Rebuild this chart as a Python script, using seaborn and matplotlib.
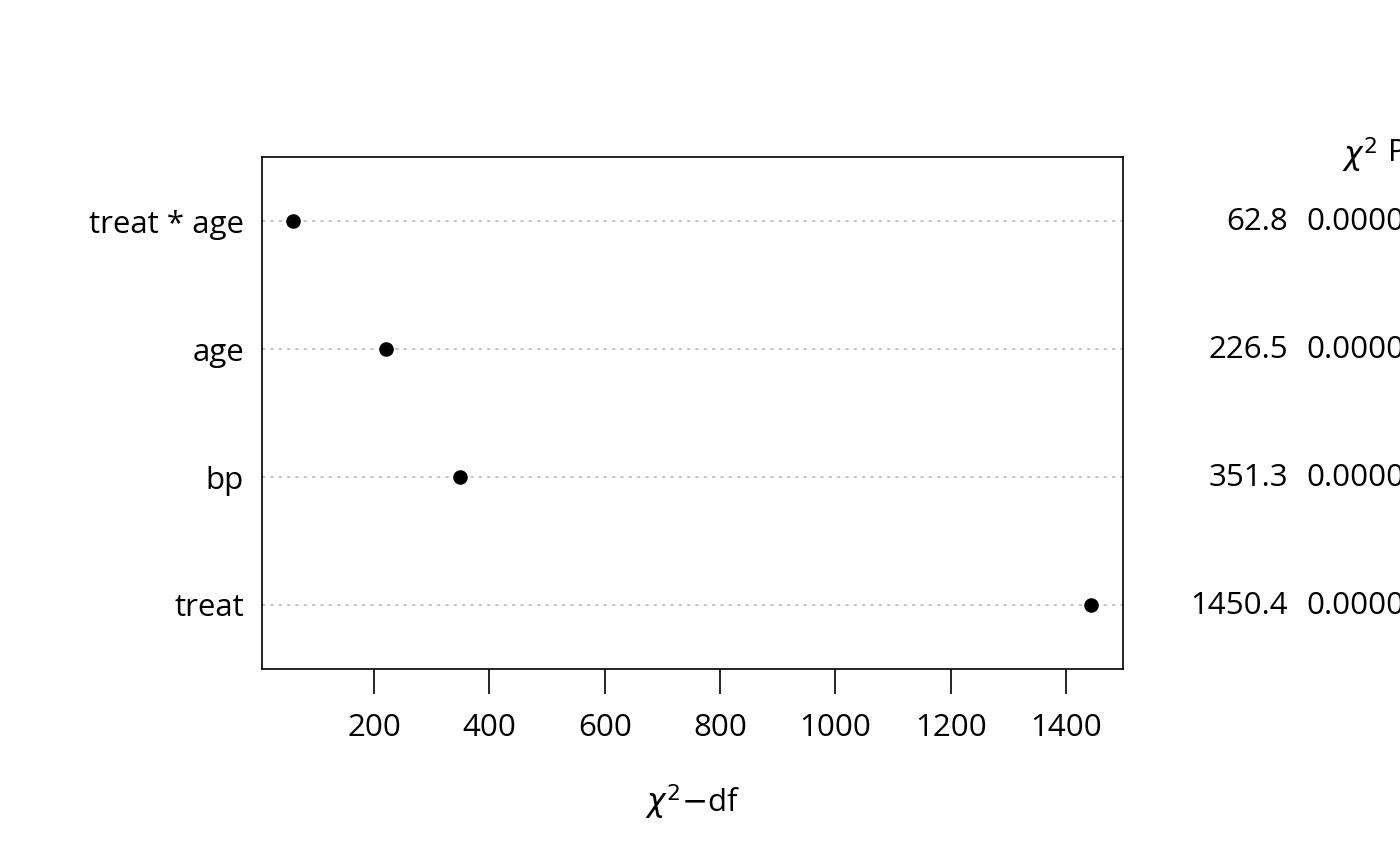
import matplotlib
matplotlib.use("Agg")
import matplotlib.pyplot as plt
import matplotlib.transforms as mtransforms
import seaborn as sns
import pandas as pd
import numpy as np

# Data (rms anova-style dot chart)
factors = ["treat", "bp", "age", "treat * age"]
chi2 = [1450.4, 351.3, 226.5, 62.8]
df_vals = [7, 2, 6, 3]
pvals = ["0.0000", "0.0000", "0.0000", "0.0000"]
xticks = [200, 400, 600, 800, 1000, 1200, 1400]

sns.set_theme(style="white")
plt.rcParams["font.family"] = ["Open Sans", "DejaVu Sans"]
plt.rcParams["mathtext.fontset"] = "dejavusans"
plt.rcParams["text.color"] = "black"
plt.rcParams["xtick.color"] = "black"
plt.rcParams["ytick.color"] = "black"
plt.rcParams["axes.labelcolor"] = "black"

FS = 22.5

data = pd.DataFrame({
    "factor": factors,
    "stat": np.array(chi2) - np.array(df_vals),
    "pos": np.arange(1, len(factors) + 1),
})

fig = plt.figure(figsize=(14, 8.66), dpi=100)
ax = fig.add_axes([262 / 1400, 1 - 669 / 866, (1123 - 262) / 1400, (669 - 157) / 866])

for p in data["pos"]:
    ax.axhline(p, color="#bebebe", lw=1.2, ls=(0, (2, 3)), zorder=1)

sns.scatterplot(data=data, x="stat", y="pos", ax=ax, color="black", s=110,
                edgecolor="black", linewidth=0, zorder=3, legend=False)

ax.set_xlim(5.7, 1498.7)
ax.set_ylim(0.5, len(factors) + 0.5)
ax.set_yticks(data["pos"])
ax.set_yticklabels(factors, fontsize=FS)
ax.set_xticks(xticks)
ax.set_xticklabels([str(t) for t in xticks], fontsize=FS)
ax.tick_params(axis="y", length=0, pad=13)
ax.tick_params(axis="x", length=18, width=1.2, color="black", pad=14, direction="out", bottom=True)
ax.set_xlabel(r"$\chi^2$$-$df", fontsize=FS, labelpad=28)
ax.set_ylabel("")
for s in ax.spines.values():
    s.set_color("black")
    s.set_linewidth(1.2)

trans = mtransforms.blended_transform_factory(fig.transFigure, ax.transData)
for p, c, pv in zip(data["pos"], chi2, pvals):
    ax.text(1288 / 1400, p - 0.01, f"{c:.1f}", transform=trans, ha="right", va="center",
            fontsize=FS, clip_on=False)
    ax.text(1306 / 1400, p - 0.01, pv, transform=trans, ha="left", va="center",
            fontsize=FS, clip_on=False)

fig.text(1360 / 1400, 1 - 155 / 866, r"$\chi^2$", ha="center", va="center", fontsize=FS)
fig.text(1388 / 1400, 1 - 153 / 866, "P", ha="left", va="center", fontsize=FS)

fig.savefig("out.png", dpi=100, facecolor="white")
